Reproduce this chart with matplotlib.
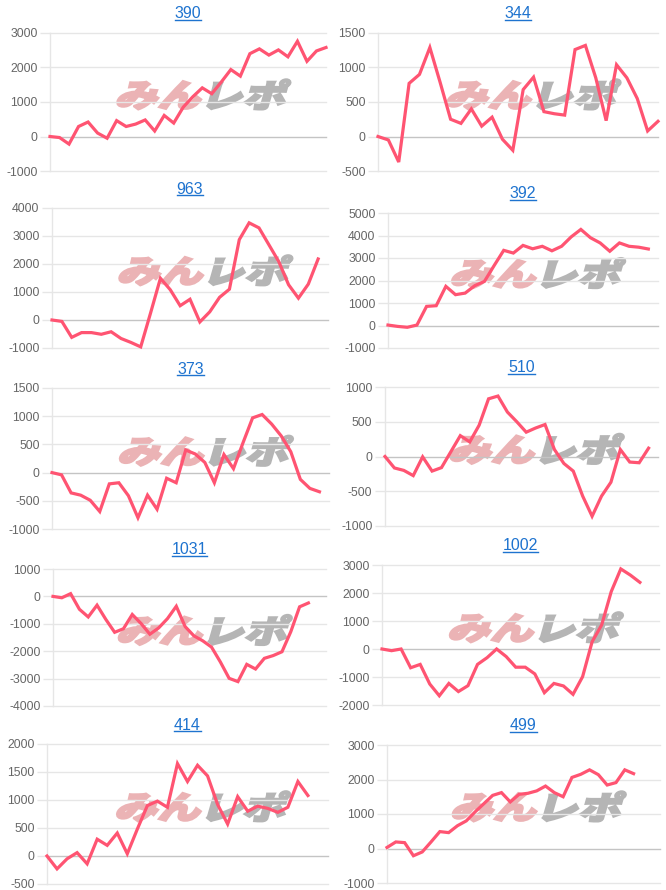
import numpy as np
import matplotlib
matplotlib.use("Agg")
import matplotlib.pyplot as plt
import matplotlib.transforms as mtrans
from matplotlib.textpath import TextPath
from matplotlib.patches import PathPatch
from matplotlib.font_manager import FontProperties
from matplotlib.lines import Line2D

# ---------------- data ----------------
titles = ["390", "344", "963", "392", "373", "510", "1031", "1002", "414", "499"]

s390 = [0, -30, -220, 290, 420, 100, -50, 460, 290, 360, 480, 160, 610, 390, 850,
        1150, 1410, 1240, 1580, 1940, 1750, 2400, 2540, 2360, 2510, 2310, 2760,
        2180, 2480, 2580]
s344 = [0, -50, -370, 770, 900, 1290, 780, 250, 190, 400, 150, 280, -40, -200,
        680, 860, 360, 330, 310, 1260, 1320, 850, 230, 1040, 850, 550, 80, 220]
s963 = [0, -50, -620, -450, -450, -510, -420, -660, -800, -960, 250, 1490, 1080,
        510, 740, -70, 290, 810, 1100, 2870, 3470, 3290, 2690, 2090, 1260, 780,
        1280, 2180]
s392 = [20, -40, -80, 20, 850, 880, 1740, 1370, 1440, 1770, 1960, 2660, 3340,
        3220, 3560, 3410, 3520, 3320, 3520, 3940, 4270, 3900, 3670, 3300, 3670,
        3520, 3480, 3400]
s373 = [0, -40, -360, -400, -490, -690, -200, -180, -410, -800, -400, -650, -100,
        -180, 400, 330, 180, -180, 320, 70, 530, 970, 1030, 860, 650, 370, -120,
        -280, -340]
s510 = [0, -165, -200, -275, -5, -210, -160, 70, 300, 210, 450, 830, 870, 640,
        500, 350, 410, 460, 100, -100, -210, -570, -860, -570, -370, 100, -80,
        -90, 120]
s1031 = [0, -50, 100, -470, -750, -320, -840, -1310, -1180, -660, -990, -1380,
         -1150, -810, -360, -1100, -1440, -1620, -1850, -2390, -2990, -3110,
         -2480, -2650, -2260, -2160, -2020, -1290, -380, -240]
s1002 = [0, -60, 0, -670, -550, -1250, -1670, -1230, -1520, -1310, -550, -310, 0,
         -270, -650, -650, -890, -1560, -1230, -1320, -1620, -990, 260, 860, 2050,
         2860, 2640, 2380]
s414 = [0, -230, -50, 60, -140, 300, 190, 410, 40, 480, 900, 980, 870, 1650, 1330,
        1620, 1430, 920, 570, 1060, 800, 890, 850, 780, 870, 1330, 1080]
s499 = [30, 190, 170, -210, -100, 190, 490, 460, 660, 800, 1060, 1300, 1540, 1620,
        1350, 1570, 1600, 1670, 1810, 1620, 1500, 2060, 2150, 2280, 2140, 1840,
        1910, 2280, 2170]
series = [s390, s344, s963, s392, s373, s510, s1031, s1002, s414, s499]

# number of x label slots per chart (series may be shorter than the axis)
slots = [30, 28, 29, 29, 30, 30, 32, 30, 29, 32]

# y tick ranges (min, max, step)
yticks = [(-1000, 3000, 1000), (-500, 1500, 500), (-1000, 4000, 1000),
          (-1000, 5000, 1000), (-1000, 1500, 500), (-1000, 1000, 500),
          (-4000, 1000, 1000), (-2000, 3000, 1000), (-500, 2000, 500),
          (-1000, 3000, 1000)]

# ---------------- layout (pixels: left, right, top, bottom) ----------------
boxes = [(50, 326, 33, 171), (378, 658, 33, 171),
         (52, 328, 208, 348), (388, 658, 213, 348),
         (52, 329, 388, 529), (385, 658, 387, 526),
         (53, 326, 569, 706), (382, 659, 565, 705),
         (47, 328, 744, 884), (387, 660, 745, 883)]

W, H = 666, 890
fig = plt.figure(figsize=(W / 100, H / 100), dpi=100)
fig.patch.set_facecolor("white")

LINE = "#ff5472"
GRID = "#e6e6e6"
ZERO = "#c4c4c4"
TICKC = "#666666"
TITLEC = "#1e73cf"

fp_logo = FontProperties(family="Noto Sans CJK JP", weight="heavy")
tp_a = TextPath((0, 0), "みん", size=100, prop=fp_logo)
tp_b = TextPath((0, 0), "レポ", size=100, prop=fp_logo)

title_artists = []
axes = []
for i in range(10):
    l, r, t, b = boxes[i]
    ax = fig.add_axes([l / W, 1 - b / H, (r - l) / W, (b - t) / H])
    axes.append(ax)
    lo, hi, st = yticks[i]
    ticks = np.arange(lo, hi + st / 2, st)
    ax.set_ylim(lo, hi)
    ax.set_xlim(0, slots[i] - 1)
    ax.set_yticks(ticks)
    ax.set_yticklabels([f"{int(v)}" for v in ticks])
    ax.set_xticks([])
    for sp in ["top", "right", "bottom"]:
        ax.spines[sp].set_visible(False)
    ax.spines["left"].set_color(GRID)
    ax.spines["left"].set_linewidth(1.0)
    for v in ticks:
        ax.axhline(v, color=ZERO if v == 0 else GRID, lw=1.0, zorder=1,
                   clip_on=False)
    ax.tick_params(axis="y", length=7, width=1.0, color=GRID, pad=2,
                   labelsize=8.8, labelcolor=TICKC)
    for lab in ax.get_yticklabels():
        lab.set_family("Liberation Sans")

    # watermark logo
    wa = tp_a.get_extents()
    wb = tp_b.get_extents()
    hpx = 30.0
    sc = hpx / max(wa.height, wb.height)
    sx = 1.35
    gap = 8
    cx = l + 0.54 * (r - l)
    cy_top = t + 0.445 * (b - t)
    total_w = (wa.width + wb.width) * sc * sx + gap
    x0 = cx - total_w / 2
    ydisp = H - cy_top - hpx / 2
    ta = (mtrans.Affine2D().translate(-wa.x0, -wa.y0).scale(sc * sx, sc)
          .skew_deg(16, 0).translate(x0, ydisp))
    pa = PathPatch(tp_a, facecolor="#ebb3b5", edgecolor="#ebb3b5", lw=1.6,
                   transform=ta, zorder=0.5)
    ax.add_artist(pa)
    tb = (mtrans.Affine2D().translate(-wb.x0, -wb.y0).scale(sc * sx, sc)
          .skew_deg(16, 0).translate(x0 + wa.width * sc * sx + gap, ydisp))
    pb = PathPatch(tp_b, facecolor="#b5b5b5", edgecolor="#b5b5b5", lw=1.6,
                   transform=tb, zorder=0.5)
    ax.add_artist(pb)

    y = np.array(series[i], dtype=float)
    x = np.arange(len(y))
    ax.plot(x, y, color=LINE, lw=2.3, solid_joinstyle="miter", zorder=3,
            clip_on=False)

    tt = ax.text(0.5, 1 + 19 / (b - t), titles[i], transform=ax.transAxes,
                 ha="center", va="center", fontsize=11.5, color=TITLEC,
                 family="Liberation Sans")
    title_artists.append(tt)

# underline titles
fig.canvas.draw()
renderer = fig.canvas.get_renderer()
for tt in title_artists:
    bb = tt.get_window_extent(renderer)
    yline = bb.y0 + 1.5
    fig.add_artist(Line2D([bb.x0 / W, bb.x1 / W], [yline / H, yline / H],
                          color=TITLEC, lw=1.0, transform=fig.transFigure))

fig.savefig("out.png", dpi=100, facecolor="white")
